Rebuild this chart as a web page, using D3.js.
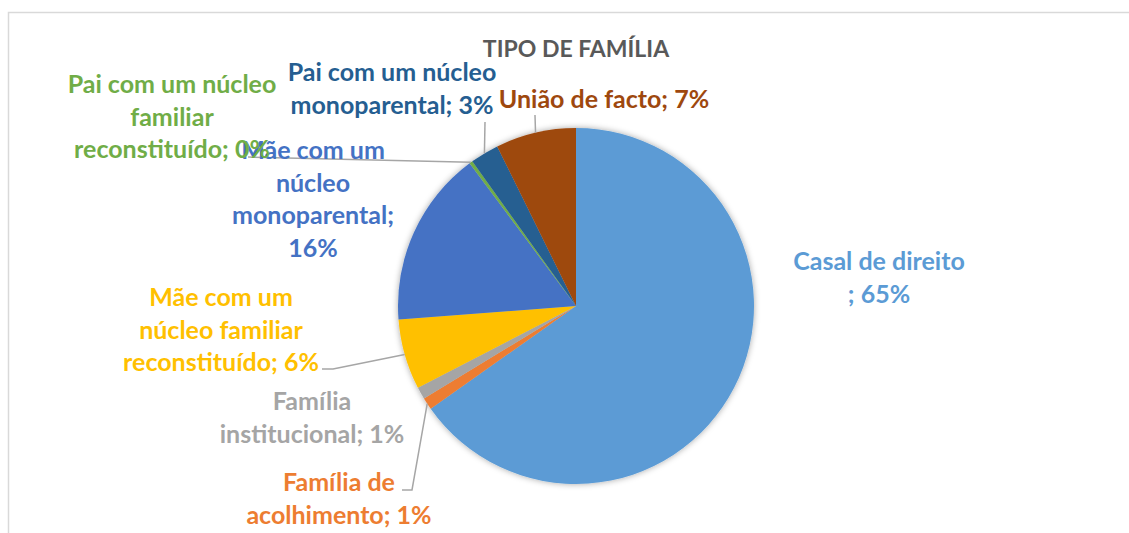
<!DOCTYPE html>
<html>
<head>
<meta charset="utf-8">
<script src="https://cdn.jsdelivr.net/npm/d3@7"></script>
<style>
  body { margin: 0; background: #fff; }
  text { font-family: Lato, "Open Sans", sans-serif; font-weight: 700; }
</style>
</head>
<body>
<div id="my_pie"></div>
<script>
// chart data, clockwise from 12 o'clock
const categories = [
    "Casal de direito",
    "Família de acolhimento",
    "Família institucional",
    "Mãe com um núcleo familiar reconstituído",
    "Mãe com um núcleo monoparental",
    "Pai com um núcleo familiar reconstituído",
    "Pai com um núcleo monoparental",
    "União de facto"
];
const values = [65.2, 1.1, 1.1, 6.4, 16.0, 0.3, 2.6, 7.3];
const percentLabels = ["65%", "1%", "1%", "6%", "16%", "0%", "3%", "7%"];
// wrapped label text, as in the original
const labelLines = [
    ["Casal de direito", "; 65%"],
    ["Família de", "acolhimento; 1%"],
    ["Família", "institucional; 1%"],
    ["Mãe com um", "núcleo familiar", "reconstituído; 6%"],
    ["Mãe com um", "núcleo", "monoparental;", "16%"],
    ["Pai com um núcleo", "familiar", "reconstituído; 0%"],
    ["Pai com um núcleo", "monoparental; 3%"],
    ["União de facto; 7%"]
];
const chartTitle = "TIPO DE FAMÍLIA";

const colors = ["#5B9BD5", "#ED7D31", "#A5A5A5", "#FFC000", "#4472C4", "#70AD47", "#255E91", "#9E480E"];

// label placement (center x, first baseline) and leader line bends
const labelLayout = [
    {x: 879, y: 270, leader: null},
    {x: 339, y: 491, leader: [[402, 490], [412, 490]]},
    {x: 312, y: 410, leader: null},
    {x: 221, y: 306, leader: [[322, 369], [333, 369]]},
    {x: 313, y: 159, leader: null},
    {x: 172, y: 93,  leader: [[248, 157]]},
    {x: 392, y: 81,  leader: [[485, 122]]},
    {x: 604, y: 108, leader: [[535, 115]]}
];

var width = 1129, height = 533;
var cx = 576, cy = 306, radius = 178;
var lineGap = 32.5;

var svg = d3.select("#my_pie")
    .append("svg")
    .attr("width", width)
    .attr("height", height);

// soft shadow under the pie
var defs = svg.append("defs");
var filter = defs.append("filter")
    .attr("id", "pieShadow")
    .attr("x", "-20%").attr("y", "-20%")
    .attr("width", "140%").attr("height", "140%");
filter.append("feDropShadow")
    .attr("dx", 0).attr("dy", 0)
    .attr("stdDeviation", 3)
    .attr("flood-color", "#000")
    .attr("flood-opacity", 0.35);

// chart area frame (cropped on the right and bottom)
svg.append("rect")
    .attr("x", 8.5).attr("y", 12.5)
    .attr("width", 1300).attr("height", 700)
    .attr("fill", "none")
    .attr("stroke", "#d9d9d9")
    .attr("stroke-width", 1.5);

// title
svg.append("text")
    .attr("x", cx)
    .attr("y", 57)
    .attr("text-anchor", "middle")
    .style("font-size", "23px")
    .style("fill", "#595959")
    .text(chartTitle);

var data = categories.map(function(c, i) {
    return {name: c, value: values[i], color: colors[i], lines: labelLines[i], pos: labelLayout[i]};
});

var pie = d3.pie()
    .sort(null)
    .value(function(d) { return d.value; });

var arc = d3.arc()
    .innerRadius(0)
    .outerRadius(radius);

var arcs = pie(data);

var g = svg.append("g")
    .attr("transform", "translate(" + cx + "," + cy + ")");

g.append("g")
    .attr("filter", "url(#pieShadow)")
    .selectAll("path")
    .data(arcs)
    .enter()
    .append("path")
    .attr("d", arc)
    .attr("fill", function(d) { return d.data.color; });

// leader lines from the arc midpoint to the label
arcs.forEach(function(a) {
    if (!a.data.pos.leader) return;
    var mid = (a.startAngle + a.endAngle) / 2;
    var anchor = [cx + radius * Math.sin(mid), cy - radius * Math.cos(mid)];
    var pts = a.data.pos.leader.concat([anchor]);
    svg.append("path")
        .attr("d", d3.line()(pts))
        .attr("fill", "none")
        .attr("stroke", "#a6a6a6")
        .attr("stroke-width", 1.5);
});

// data labels
arcs.forEach(function(a) {
    var t = svg.append("text")
        .attr("text-anchor", "middle")
        .style("font-size", "25px")
        .style("fill", a.data.color);
    a.data.lines.forEach(function(line, k) {
        t.append("tspan")
            .attr("x", a.data.pos.x)
            .attr("y", a.data.pos.y + k * lineGap)
            .text(line);
    });
});
</script>
</body>
</html>
